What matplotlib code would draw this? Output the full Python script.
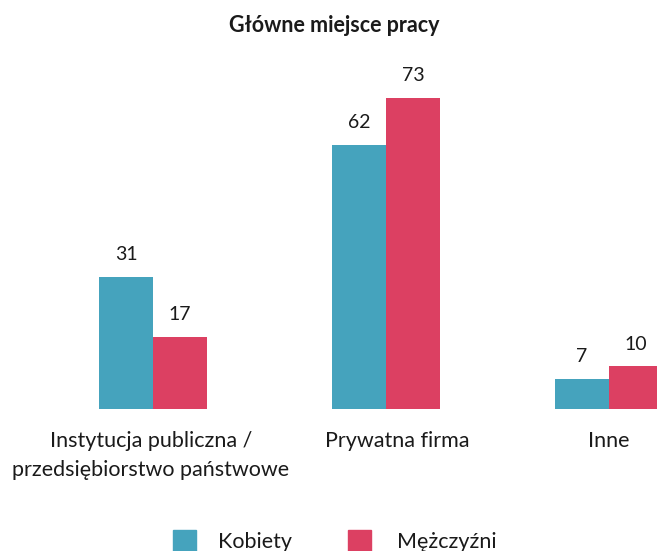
import matplotlib
matplotlib.use("Agg")
import matplotlib.pyplot as plt
from matplotlib.patches import Rectangle
import numpy as np

plt.rcParams['font.family'] = ['Lato', 'DejaVu Sans']

categories = ["Instytucja publiczna /\nprzedsiębiorstwo państwowe", "Prywatna firma", "Inne"]
kobiety = [31, 62, 7]
mezczyzni = [17, 73, 10]
series_names = ["Kobiety", "Mężczyźni"]
colors = ["#45A3BD", "#DC4062"]

W, H = 657, 551
fig = plt.figure(figsize=(W / 100, H / 100), dpi=100)

# axes spans full width, baseline at y=409 px
px_unit = 228.0
x0_px = 153.0
ax_bottom = (H - 409) / H
ax_top_px = 60
ax = fig.add_axes([0, ax_bottom, 1, (409 - ax_top_px) / H])
ax.set_xlim(-x0_px / px_unit, (W - x0_px) / px_unit)
ax.set_ylim(0, (409 - ax_top_px) / 4.26)

x = np.array([0, 1.022, 2.0])
w = 54 / px_unit
b1 = ax.bar(x - w / 2, kobiety, w, color=colors[0])
b2 = ax.bar(x + w / 2, mezczyzni, w, color=colors[1])
for bars in (b1, b2):
    for r in bars:
        ax.annotate(f"{int(r.get_height())}", (r.get_x() + r.get_width() / 2, r.get_height()),
                    xytext=(0, 10), textcoords="offset points", ha="center", va="bottom",
                    fontsize=14, color="#1a1a1a")

ax.set_xticks(x + np.array([-0.01, 0.05, 0.0]))
ax.set_xticklabels(categories, fontsize=15.5, color="#1a1a1a", linespacing=1.55)
ax.tick_params(axis="x", length=0, pad=16)
ax.set_yticks([])
for s in ax.spines.values():
    s.set_visible(False)

fig.text(334 / W, 1 - 25 / H, "Główne miejsce pracy", ha="center", va="center",
         fontsize=15.5, fontweight="bold", color="#1a1a1a")

# legend drawn at the bottom, partly clipped like the original
leg_y = 530
for name, c, hx, tx in zip(series_names, colors, [173, 348], [218, 397]):
    fig.patches.append(Rectangle((hx / W, 1 - (leg_y + 23) / H), 23 / W, 23 / H,
                                 transform=fig.transFigure, color=c))
    fig.text(tx / W, 1 - (leg_y + 12) / H, name, ha="left", va="center",
             fontsize=15.5, color="#1a1a1a")

fig.savefig("out.png", dpi=100)
